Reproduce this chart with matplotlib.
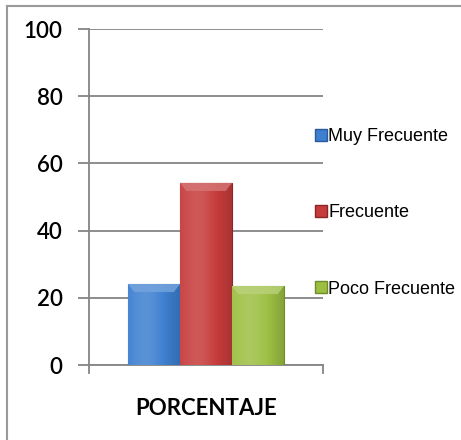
import matplotlib.pyplot as plt
import numpy as np
from matplotlib.colors import to_rgb
from matplotlib.lines import Line2D


categories = ["Muy Frecuente", "Frecuente", "Poco Frecuente"]
values = [24.1, 54.2, 23.5]
colors = ["#3d7fd0", "#c63c3b", "#9cbf42"]
edge_colors = ["#2a5a9a", "#8e2525", "#6e8c2a"]
yticks = [0, 20, 40, 60, 80, 100]
xlabel = "PORCENTAJE"


def shade(color, k):
    c = np.array(to_rgb(color))
    if k >= 0:
        return c + (1 - c) * k
    return c * (1 + k)


def main():
    fig = plt.figure(figsize=(4.61, 4.40), dpi=100)
    ax = fig.add_axes([89 / 461, 1 - 365 / 440, 234 / 461, 336 / 440])

    width = 0.222
    xs = 0.5 + (np.arange(len(values)) - 1) * width
    bars = ax.bar(xs, values, width=width, color=colors, edgecolor=edge_colors,
                  linewidth=0.8, zorder=3)

    # soft horizontal shading on each bar, clipped to the bar itself
    for patch, col in zip(bars.patches, colors):
        x0, y0 = patch.get_x(), patch.get_y()
        w, h = patch.get_width(), patch.get_height()
        t = np.linspace(0, 1, 64)
        prof = 0.15 * np.exp(-((t - 0.35) / 0.35) ** 2) - 0.15 * t ** 3
        row = np.array([shade(col, p) for p in prof])
        img = np.clip(np.tile(row[None, :, :], (2, 1, 1)), 0, 1)
        im = ax.imshow(img, extent=[x0, x0 + w, y0, y0 + h], aspect="auto",
                       origin="lower", zorder=3.5, interpolation="bilinear")
        im.set_clip_path(patch)
        # lighter bevel at the top of the bar
        cap = 2.4
        ax.fill([x0, x0 + w, x0 + w * 0.88, x0 + w * 0.12],
                [y0 + h, y0 + h, y0 + h - cap, y0 + h - cap],
                color=shade(col, 0.3), alpha=0.8, lw=0, zorder=3.6)

    ax.set_xlim(0, 1)
    ax.set_ylim(0, 100)
    ax.set_yticks(yticks)
    ax.set_xticks([])
    ax.yaxis.grid(True, color="#858585", linewidth=1.3, zorder=0)
    ax.set_axisbelow(True)
    for side in ["top", "right"]:
        ax.spines[side].set_visible(False)
    ax.spines["left"].set_color("#858585")
    ax.spines["left"].set_linewidth(1.3)
    ax.spines["bottom"].set_color("#858585")
    ax.spines["bottom"].set_linewidth(1.3)
    ax.tick_params(axis="y", length=8, width=1.3, color="#858585",
                   labelsize=16, pad=11)
    for lab in ax.get_yticklabels():
        lab.set_fontfamily("Lato")
        lab.set_fontweight("semibold")

    # small ticks hanging below the category axis
    for xv in [0, 1]:
        ax.plot([xv, xv], [0, -2.5], color="#858585", lw=1.3, clip_on=False)

    ax.set_xlabel(xlabel, fontsize=16, fontweight="bold", fontfamily="Lato",
                  labelpad=24)

    handles = [Line2D([0], [0], marker="s", linestyle="", markersize=8,
                      markerfacecolor=c, markeredgecolor=e)
               for c, e in zip(colors, edge_colors)]
    fig.legend(handles, categories, loc="upper left",
               bbox_to_anchor=(299 / 461, 1 - 112 / 440), frameon=False,
               prop={"family": "Liberation Sans", "size": 13},
               handlelength=0.6, handletextpad=0.12, labelspacing=3.28)

    # chart frame
    fig.add_artist(Line2D([7 / 461, 7 / 461], [0, 1 - 6 / 440],
                          color="#9a9a9a", lw=1.5))
    fig.add_artist(Line2D([7 / 461, 460 / 461], [1 - 6 / 440, 1 - 6 / 440],
                          color="#9a9a9a", lw=1.5))

    fig.savefig("out.png", dpi=100)
    plt.close(fig)


if __name__ == "__main__":
    main()
